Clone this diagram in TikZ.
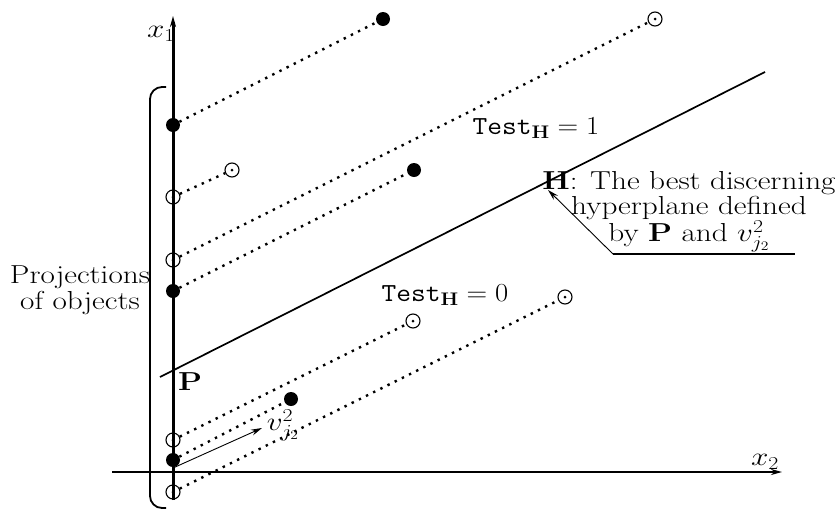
\documentclass[tikz,border=0pt]{standalone}
\usepackage{fix-cm}
\usetikzlibrary{arrows.meta}
\newcommand{\wide}[2][1.2]{\scalebox{#1}[1]{#2}}
\tikzset{
  txt/.style={font=\fontsize{26}{27}\selectfont, inner sep=0pt},
  fdot/.style={circle, fill=black, minimum size=14pt, inner sep=0pt},
  odot/.style={circle, draw, line width=1.1pt, minimum size=14pt, inner sep=0pt,
    path picture={\fill (path picture bounding box.center) circle (1.5pt);}},
  dotline/.style={line width=2.4pt, dash pattern=on 2.4pt off 5.6pt},
  axisline/.style={line width=2pt},
  tip/.style={-{Stealth[length=11pt,width=6pt]}}
}
\begin{document}
\begin{tikzpicture}[x=1pt,y=-1pt]
\useasboundingbox (0,0) rectangle (839,512);
% axes
\coordinate (x1bot) at (173,500);
\coordinate (x1top) at (173,16);
\coordinate (x2l) at (112,472);
\coordinate (x2r) at (782,472);
\node[txt] (lx1) at (161,34) {\wide{$x_1$}};
\draw[line width=3pt, tip] (x1bot) -- (x1top);
\draw[axisline, tip] (x2l) -- (x2r);
\node[txt] (lx2) at (765,462) {\wide{$x_2$}};
% bracket
\draw[line width=1.8pt, rounded corners=12pt] (166,87) -- (150,87) -- (150,508) -- (166,508);
\node[txt] (proj) at (80,291) {\wide{\begin{tabular}{@{}c@{}}Projections\\[-1pt]of objects\end{tabular}}};
% hyperplane
\coordinate (h1) at (160,377);
\coordinate (h2) at (765,72);
\draw[line width=1.7pt] (h1) -- (h2);
% points on axis
\node[fdot] (a1) at (173,125) {};
\node[odot] (a2) at (173,197) {};
\node[odot] (a3) at (173,260) {};
\node[fdot] (a4) at (173,291) {};
\node[odot] (a5) at (173,440) {};
\node[fdot] (a6) at (173,460) {};
\node[odot] (a7) at (173,492) {};
% objects
\node[fdot] (b1) at (383,19) {};
\node[odot] (b2) at (232,170) {};
\node[odot] (b3) at (655,19) {};
\node[fdot] (b4) at (414,170) {};
\node[odot] (b5) at (413,321) {};
\node[fdot] (b6) at (291,399) {};
\node[odot] (b7) at (565,297) {};
\draw[dotline] (a1) -- (b1);
\draw[dotline] (a2) -- (b2);
\draw[dotline] (a3) -- (b3);
\draw[dotline] (a4) -- (b4);
\draw[dotline] (a5) -- (b5);
\draw[dotline] (a6) -- (b6);
\draw[dotline] (a7) -- (b7);
% P and vector
\node[txt] (P) at (190,382) {\wide{$\mathbf{P}$}};
\coordinate (vs) at (173,468);
\coordinate (ve) at (262,428);
\draw[line width=0.9pt, tip] (vs) -- (ve);
\node[txt] (vl) at (283,425) {\wide{$v_{j_2}^2$}};
% tests
\node[txt] (t1) at (536,128) {\wide[1.1]{$\mathtt{Test}_{\mathbf{H}}=1$}};
\node[txt] (t0) at (445,295) {\wide[1.1]{$\mathtt{Test}_{\mathbf{H}}=0$}};
% annotation
\node[txt] (ann) at (689,211) {\wide{\begin{tabular}{@{}c@{}}$\mathbf{H}$: The best discerning\\[-2pt]hyperplane defined\\[-2pt]by $\mathbf{P}$ and $v_{j_2}^2$\end{tabular}}};
\coordinate (u1) at (613,254);
\coordinate (u2) at (795,254);
\coordinate (ha) at (548,190);
\draw[line width=2.5pt] (u1) -- (u2);
\draw[line width=0.9pt, tip] (u1) -- (ha);
\end{tikzpicture}
\end{document}
